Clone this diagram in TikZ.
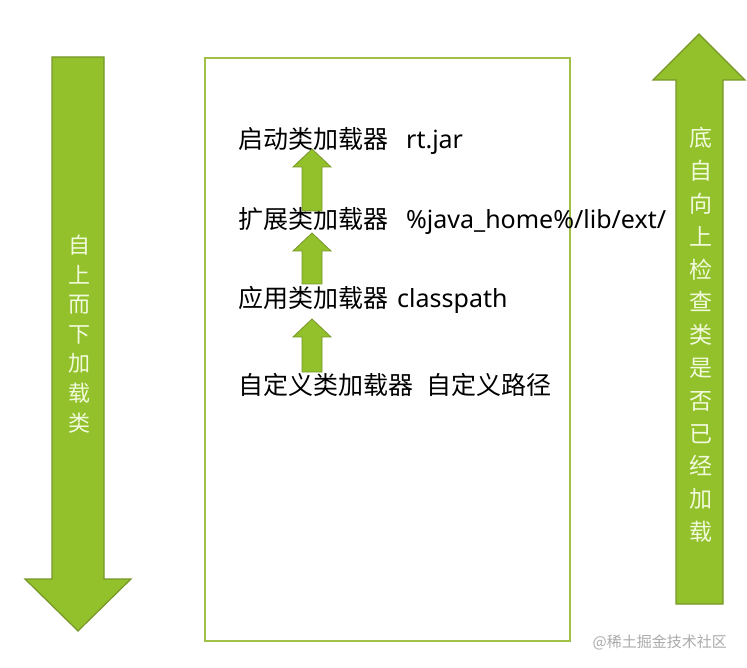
\documentclass[tikz,border=0pt]{standalone}
\usepackage{fontspec}
\setmainfont{Noto Sans}
\newfontfamily\cjk{Noto Sans CJK SC}
\definecolor{arrowfill}{RGB}{146,193,44}
\definecolor{arrowedge}{RGB}{118,150,40}
\definecolor{boxedge}{RGB}{160,192,70}
\definecolor{vtext}{RGB}{242,250,220}
\definecolor{wmark}{RGB}{170,170,170}
\begin{document}
\begin{tikzpicture}[x=1pt,y=-1pt,
  bigarrow/.style={fill=arrowfill,draw=arrowedge,line width=1.2pt,line join=miter},
  loaderline/.style={anchor=west,inner sep=0pt,font=\fontsize{25}{28}\selectfont,text=black},
  vlabel/.style={align=center,inner sep=0pt,text=vtext},
  frame/.style={draw=boxedge,line width=1.5pt}]
\path[use as bounding box] (0,0) rectangle (747,668);
% frame
\draw[frame] (205,58) rectangle (570,641);
% big arrows
\draw[bigarrow] (52,57) -- (104,57) -- (104,579) -- (131,579) -- (78,631) -- (25,579) -- (52,579) -- cycle;
\draw[bigarrow] (676,604) -- (723,604) -- (723,80) -- (745,80) -- (699,34) -- (653,80) -- (676,80) -- cycle;
% vertical labels
\node[vlabel,font=\cjk\fontsize{22}{29.6}\selectfont] (down) at (79,334) {自\\上\\而\\下\\加\\载\\类};
\node[vlabel,font=\cjk\fontsize{23}{32.8}\selectfont] (up) at (701,335) {底\\自\\向\\上\\检\\查\\类\\是\\否\\已\\经\\加\\载};
% loader lines
\node[loaderline] (boot) at (238,141) {{\cjk 启动类加载器}\hspace{18pt}rt.jar};
\node[loaderline] (ext) at (238,221) {{\cjk 扩展类加载器}\hspace{18pt}\%java\_home\%/lib/ext/};
\node[loaderline] (app) at (238,300) {{\cjk 应用类加载器}\hspace{9pt}classpath};
\node[loaderline] (custom) at (238,385) {\cjk 自定义类加载器\hspace{13pt}自定义路径};
% small arrows
\foreach \t/\b/\e in {149/167/211, 233/251/284, 319/337/372}{
  \draw[bigarrow,line width=0.8pt] (302,\e) -- (322,\e) -- (322,\b) -- (331,\b) -- (312,\t) -- (293,\b) -- (302,\b) -- cycle;
}
% watermark
\node[anchor=east,inner sep=0pt,text=wmark,font=\cjk\fontsize{15}{18}\selectfont] (wm) at (727,642) {@稀土掘金技术社区};
\end{tikzpicture}
\end{document}
